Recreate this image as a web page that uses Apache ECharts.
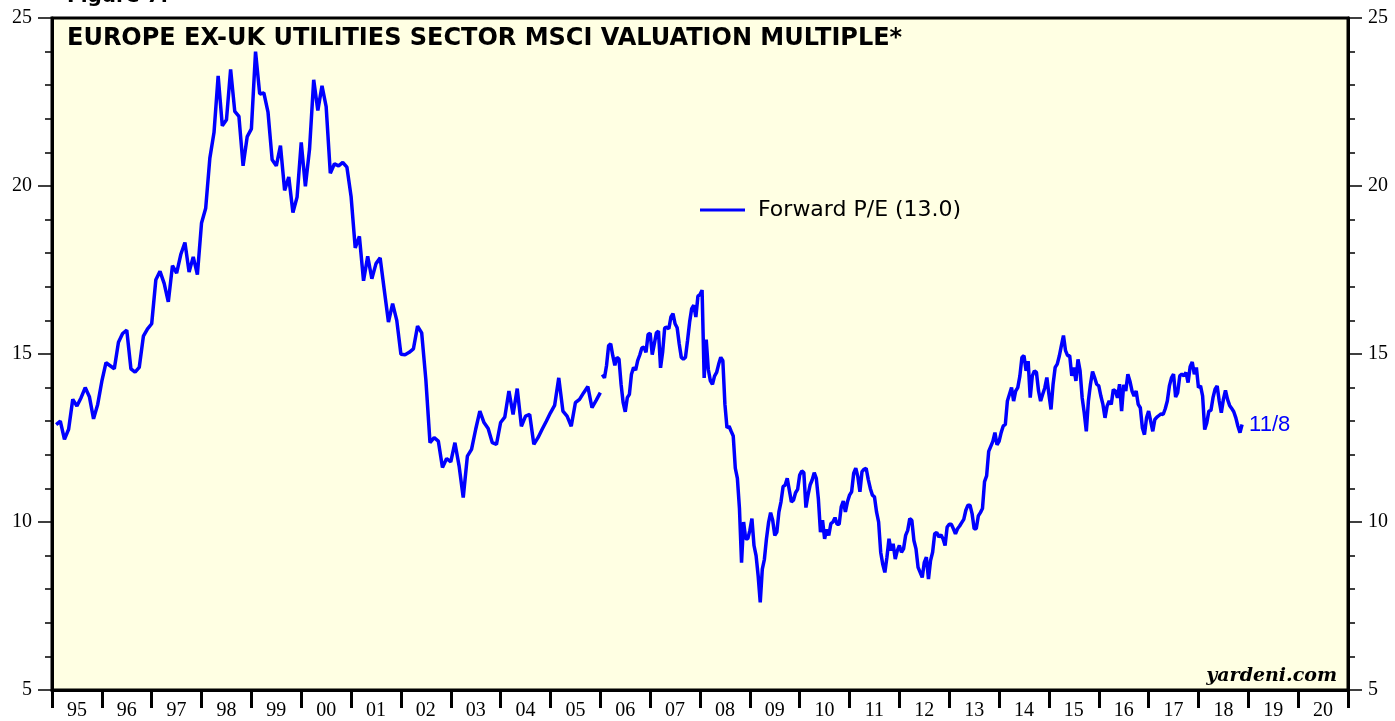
<!DOCTYPE html>
<html>
<head>
<meta charset="utf-8">
<script src="https://cdn.jsdelivr.net/npm/echarts@6/dist/echarts.min.js"></script>
<style>
  html, body { margin: 0; padding: 0; background: #fff; }
  #Chart { width: 1395px; height: 721px; }
</style>
</head>
<body>
<div id="Chart"></div>
<script>
// 年份刻度
var yearLabels = ['95', '96', '97', '98', '99', '00', '01', '02', '03', '04', '05', '06', '07',
  '08', '09', '10', '11', '12', '13', '14', '15', '16', '17', '18', '19', '20'];

// forward P/E, monthly, Feb 1995 - Jan 2006
var peMonthly = [
  12.90, 13.00, 12.46, 12.76, 13.65, 13.45, 13.70, 14.00, 13.73, 13.07, 13.50, 14.19,
  14.74, 14.65, 14.56, 15.35, 15.61, 15.71, 14.56, 14.46, 14.60, 15.53, 15.75, 15.90,
  17.21, 17.46, 17.10, 16.55, 17.63, 17.41, 17.96, 18.32, 17.44, 17.89, 17.36, 18.90,
  19.34, 20.83, 21.59, 23.28, 21.79, 21.97, 23.47, 22.22, 22.07, 20.60, 21.47, 21.70,
  24.00, 22.74, 22.77, 22.20, 20.78, 20.60, 21.20, 19.87, 20.27, 19.21, 19.67, 21.30,
  19.99, 21.10, 23.16, 22.25, 22.98, 22.36, 20.38, 20.66, 20.60, 20.70, 20.56, 19.69,
  18.16, 18.50, 17.18, 17.91, 17.24, 17.69, 17.86, 16.90, 15.95, 16.50, 16.00, 14.99,
  14.98, 15.05, 15.15, 15.83, 15.63, 14.24, 12.36, 12.51, 12.41, 11.62, 11.89, 11.79,
  12.36, 11.67, 10.73, 11.96, 12.16, 12.76, 13.30, 12.96, 12.78, 12.36, 12.31, 12.96,
  13.12, 13.90, 13.20, 13.97, 12.85, 13.15, 13.20, 12.31, 12.51, 12.76, 13.00, 13.25,
  13.47, 14.29, 13.30, 13.15, 12.85, 13.55, 13.65, 13.85, 14.03, 13.40, 13.62, 13.85
];

// forward P/E, twice a month, 2006 - 11/8/2018
var peSemiMonthly = [
  14.39, 14.29, 14.66, 15.25, 15.30, 14.95, 14.66, 14.90, 14.85, 14.10, 13.55, 13.28,
  13.70, 13.80, 14.40, 14.60, 14.52, 14.80, 14.97, 15.18, 15.20, 15.05, 15.58, 15.62,
  14.98, 15.30, 15.63, 15.68, 14.59, 15.05, 15.78, 15.80, 15.75, 16.10, 16.20, 15.90,
  15.78, 15.30, 14.90, 14.85, 14.90, 15.40, 15.95, 16.35, 16.45, 16.10, 16.72, 16.77,
  16.90, 14.29, 15.43, 14.54, 14.20, 14.10, 14.34, 14.45, 14.70, 14.90, 14.80, 13.50,
  12.80, 12.85, 12.70, 12.56, 11.60, 11.30, 10.40, 8.79, 10.00, 9.50, 9.50, 9.75,
  10.10, 9.30, 9.00, 8.40, 7.61, 8.60, 8.89, 9.50, 9.98, 10.28, 10.05, 9.60,
  9.70, 10.30, 10.60, 11.05, 11.10, 11.30, 10.95, 10.60, 10.65, 10.87, 10.97, 11.40,
  11.52, 11.47, 10.43, 10.80, 11.10, 11.25, 11.47, 11.30, 10.68, 9.70, 10.05, 9.50,
  9.78, 9.60, 9.95, 10.00, 10.13, 9.93, 9.93, 10.45, 10.62, 10.30, 10.60, 10.80,
  10.90, 11.45, 11.60, 11.35, 10.90, 11.50, 11.57, 11.60, 11.27, 11.00, 10.80, 10.75,
  10.30, 10.00, 9.10, 8.74, 8.50, 8.95, 9.50, 9.15, 9.35, 8.90, 9.15, 9.30,
  9.10, 9.20, 9.60, 9.75, 10.10, 10.05, 9.45, 9.20, 8.65, 8.50, 8.35, 8.80,
  8.95, 8.30, 8.85, 9.10, 9.65, 9.69, 9.55, 9.62, 9.50, 9.30, 9.85, 9.93,
  9.93, 9.80, 9.65, 9.80, 9.88, 9.98, 10.08, 10.35, 10.50, 10.50, 10.25, 9.80,
  9.80, 10.18, 10.28, 10.40, 11.20, 11.37, 12.10, 12.25, 12.40, 12.66, 12.30, 12.40,
  12.66, 12.86, 12.90, 13.60, 13.80, 14.00, 13.60, 13.90, 14.00, 14.34, 14.90, 14.95,
  14.50, 14.79, 13.70, 14.35, 14.50, 14.45, 13.90, 13.60, 13.80, 13.99, 14.30, 13.80,
  13.35, 14.10, 14.60, 14.70, 14.94, 15.25, 15.55, 15.10, 14.95, 14.95, 14.35, 14.60,
  14.20, 14.84, 14.50, 13.70, 13.25, 12.70, 13.60, 14.10, 14.48, 14.30, 14.10, 14.05,
  13.75, 13.50, 13.10, 13.45, 13.60, 13.50, 13.94, 13.90, 13.70, 14.10, 13.30, 14.08,
  13.90, 14.40, 14.19, 13.90, 13.75, 13.90, 13.50, 13.40, 12.80, 12.60, 13.10, 13.30,
  13.00, 12.70, 13.05, 13.12, 13.17, 13.22, 13.20, 13.37, 13.60, 14.05, 14.29, 14.40,
  13.72, 13.85, 14.35, 14.40, 14.35, 14.45, 14.15, 14.62, 14.76, 14.40, 14.60, 14.00,
  14.05, 13.75, 12.75, 12.95, 13.30, 13.32, 13.70, 13.95, 14.05, 13.60, 13.25, 13.65,
  13.92, 13.65, 13.47, 13.38, 13.28, 13.10, 12.85, 12.66, 12.90
];

var seriesName = 'Forward P/E (13.0)';
var lastLabel = '11/8';

var seg1 = peMonthly.map(function (v, k) { return [1995 + (k + 1) / 12, v]; });
var seg2 = peSemiMonthly.map(function (v, k) { return [2006 + (k + 1) / 24, v]; });

var serif = 'Liberation Serif';
var sans = 'DejaVu Sans';

function yAxisOpt(pos) {
  return {
    type: 'value',
    position: pos,
    min: 5,
    max: 25,
    interval: 5,
    axisLine: { show: true, lineStyle: { color: '#000', width: 3 } },
    axisTick: { show: true, inside: false, length: 14, lineStyle: { color: '#000', width: 1.5 } },
    minorTick: { show: true, splitNumber: 5, length: 7, lineStyle: { color: '#000', width: 1.5 } },
    axisLabel: { color: '#000', fontFamily: serif, fontSize: 20, margin: 20 },
    splitLine: { show: false }
  };
}

var Chart = echarts.init(document.getElementById('Chart'));
Chart.setOption({
  animation: false,
  backgroundColor: '#fff',
  grid: {
    left: 52, right: 47, top: 18, bottom: 30,
    show: true,
    backgroundColor: '#FFFFE3',
    borderColor: '#000',
    borderWidth: 3
  },
  legend: {
    data: [seriesName],
    left: 700,
    top: 199,
    padding: 0,
    icon: 'rect',
    itemWidth: 45,
    itemHeight: 3,
    itemGap: 12,
    textStyle: { color: '#000', fontFamily: sans, fontSize: 22, padding: [0, 0, 0, 8] }
  },
  graphic: [
    {
      type: 'text', left: 67, top: -13,
      style: { text: 'Figure 7.', font: 'bold 20px "DejaVu Sans"', fill: '#000' }
    },
    {
      type: 'text', left: 67, top: 27,
      style: { text: 'EUROPE EX-UK UTILITIES SECTOR MSCI VALUATION MULTIPLE*', font: 'bold 24px "DejaVu Sans"', fill: '#000' }
    },
    {
      type: 'text', right: 58, top: 667,
      style: { text: 'yardeni.com', font: 'italic bold 19px "DejaVu Serif"', fill: '#000' }
    }
  ],
  xAxis: [
    {
      type: 'value',
      min: 1995,
      max: 2021,
      show: false
    },
    {
      type: 'category',
      position: 'bottom',
      data: yearLabels,
      boundaryGap: true,
      axisLine: { show: true, lineStyle: { color: '#000', width: 3 } },
      axisTick: { show: true, length: 18, lineStyle: { color: '#000', width: 3 } },
      axisLabel: { color: '#000', fontFamily: serif, fontSize: 20, margin: 11 },
      splitLine: { show: false }
    }
  ],
  yAxis: [yAxisOpt('left'), yAxisOpt('right')],
  series: [
    {
      name: seriesName,
      type: 'line',
      xAxisIndex: 0,
      yAxisIndex: 0,
      data: seg1,
      showSymbol: false,
      symbol: 'none',
      lineStyle: { color: '#0000FF', width: 3.5 },
      itemStyle: { color: '#0000FF' }
    },
    {
      name: seriesName,
      type: 'line',
      xAxisIndex: 0,
      yAxisIndex: 0,
      data: seg2,
      showSymbol: false,
      symbol: 'none',
      lineStyle: { color: '#0000FF', width: 3.5 },
      itemStyle: { color: '#0000FF' },
      endLabel: {
        show: true,
        formatter: lastLabel,
        color: '#0000FF',
        fontFamily: 'Liberation Sans',
        fontSize: 22,
        distance: 7
      }
    }
  ]
});
</script>
</body>
</html>
